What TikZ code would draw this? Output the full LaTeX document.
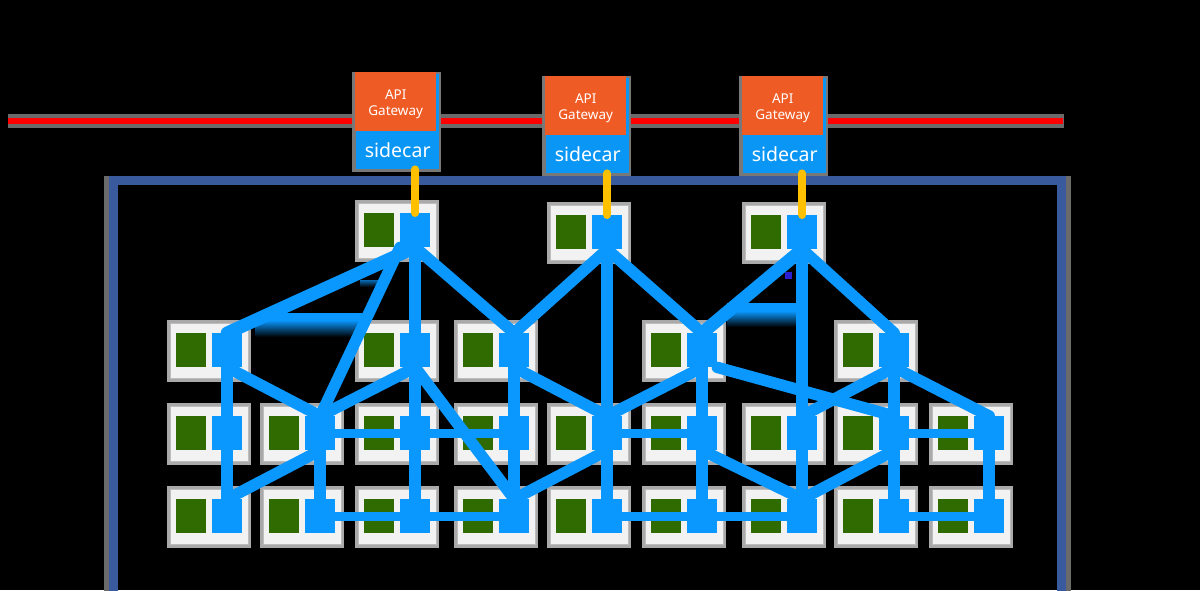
\documentclass[tikz,border=0pt]{standalone}
\usepackage{fontspec}
\setmainfont{Noto Sans}
\usetikzlibrary{calc}
\definecolor{meshblue}{HTML}{0A98FF}
\definecolor{sqgreen}{HTML}{2F6B00}
\definecolor{boxfill}{HTML}{F2F2F2}
\definecolor{boxline}{HTML}{BDBDBD}
\definecolor{boxshadow}{HTML}{A9A9A9}
\definecolor{gworange}{HTML}{EF5B25}
\definecolor{scblue}{HTML}{0A96F5}
\definecolor{yel}{HTML}{FFC000}
\definecolor{frameblue}{HTML}{3A5A9E}
\definecolor{shgray}{HTML}{6A6A6A}
\definecolor{gwshadow}{HTML}{787878}
\definecolor{wirered}{HTML}{FF0000}
\definecolor{artblue}{HTML}{2B1ED0}
\tikzset{
  shbox/.style={fill=boxshadow, draw=none, minimum width=84, minimum height=62, inner sep=0, anchor=north west},
  lbox/.style={fill=boxfill, draw=boxline, line width=1.2, minimum width=78, minimum height=55, inner sep=0, anchor=north west},
  gsq/.style={fill=sqgreen, draw=none, minimum width=30, minimum height=34, inner sep=0, anchor=north west},
  bsq/.style={fill=meshblue, draw=none, minimum width=30, minimum height=34, inner sep=0, anchor=north west},
  lk/.style={draw=meshblue, line width=11.5, line cap=round},
  hk/.style={draw=meshblue, line width=9, line cap=round},
  yl/.style={draw=yel, line width=8, line cap=round},
  gwnode/.style={fill=gworange, draw=none, minimum width=81, minimum height=59, inner sep=0, anchor=north west},
  gwtext/.style={text=white, align=center, inner sep=0, font=\fontsize{13.5}{16}\selectfont},
  scnode/.style={fill=scblue, draw=none, minimum width=83, minimum height=38, inner sep=0, anchor=north west, text=white, font=\fontsize{19.5}{22}\selectfont},
}
\newcommand\svc[3]{%
  \node[shbox] at (#2-3,#3-3) {};
  \node[lbox] (#1box) at (#2,#3) {};
  \node[gsq] (#1g) at (#2+6,#3+10) {};
  \node[bsq] (#1) at (#2+42,#3+10) {};
}
\newcommand\gwy[3]{%
  \fill[gwshadow] (#2-3,#3) rectangle (#2+86,#3+100);
  \fill[scblue] (#2+78,#3+2) rectangle (#2+84,#3+59);
  \node[scnode] (s#1) at (#2+1,#3+59) {sidecar};
  \node[gwnode] (g#1) at (#2,#3) {};
  \node[gwtext] (t#1) at ($(g#1.center)+(0,2.5)$) {API\\Gateway};
}
\begin{document}
\begin{tikzpicture}[x=1pt,y=-1pt]
\useasboundingbox (0,0) rectangle (1200,590);
\fill[black] (0,0) rectangle (1200,590);
% red wire
\coordinate (rl) at (8,120.5);
\coordinate (rr) at (1063,120.5);
\draw[shgray, line width=14] (rl) -- ($(rr)+(1,0)$);
\draw[wirered, line width=6] (rl) -- (rr);
% gateways
\gwy{1}{355}{72}
\gwy{2}{545}{76}
\gwy{3}{742}{76}
% frame
\draw[shgray, line width=5] (106,176) -- (106,595);
\draw[shgray, line width=5] (1068.5,176) -- (1068.5,595);
\draw[frameblue, line width=9] (113,595) -- (113,180.5) -- (1061.5,180.5) -- (1061.5,595);
% services
\svc{T3}{358}{203}
\svc{T5}{550}{205}
\svc{T7}{745}{205}
\svc{A1}{170}{323}
\svc{A3}{358}{323}
\svc{A4}{457}{323}
\svc{A6}{645}{323}
\svc{A8}{837}{323}
\svc{B1}{170}{406}
\svc{B2}{263}{406}
\svc{B3}{358}{406}
\svc{B4}{457}{406}
\svc{B5}{550}{406}
\svc{B6}{645}{406}
\svc{B7}{745}{406}
\svc{B8}{837}{406}
\svc{B9}{932}{406}
\svc{C1}{170}{489}
\svc{C2}{263}{489}
\svc{C3}{358}{489}
\svc{C4}{457}{489}
\svc{C5}{550}{489}
\svc{C6}{645}{489}
\svc{C7}{745}{489}
\svc{C8}{837}{489}
\svc{C9}{932}{489}
% faded bands
\fill[meshblue] (255,313) rectangle (362,320);
\shade[top color=meshblue, bottom color=black] (255,320) rectangle (362,337);
\shade[top color=meshblue!70!black, bottom color=black] (360,280) rectangle (388,287);
\fill[meshblue] (727,303) rectangle (796,311);
\shade[top color=meshblue, bottom color=black] (727,311) rectangle (796,327);
\fill[artblue] (785,272) rectangle (792,279);
% links
\draw[lk, line width=13] (T3.south) -- (A1.north);
\draw[lk] (T3.south west) -- (B2.north);
\draw[lk] (T3.south) -- (A3.north);
\draw[lk] (T3.south) -- (A4.north);
\draw[lk] (T5.south) -- (A4.north);
\draw[lk] (T5.south) -- (B5.north);
\draw[lk] (T5.south) -- (A6.north);
\draw[lk, line width=13] (T7.south) -- (A6.north);
\draw[lk] (T7.south) -- (B7.north);
\draw[lk] (T7.south) -- (A8.north);
\draw[lk] (A1.south) -- (B1.north);
\draw[lk] (A1.south) -- (B2.north);
\draw[lk] (A3.south) -- (B2.north);
\draw[lk] (A3.south) -- (B3.north);
\draw[lk] (A3.south) -- (C4.north);
\draw[lk] (A4.south) -- (B4.north);
\draw[lk] (A4.south) -- (B5.north);
\draw[lk] (A6.south) -- (B5.north);
\draw[lk] (A6.south) -- (B6.north);
\draw[lk] (A6.south east) -- (B8.north);
\draw[lk] (A8.south) -- (B7.north);
\draw[lk] (A8.south) -- (B8.north);
\draw[lk] (A8.south) -- (B9.north);
\draw[lk] (B1.south) -- (C1.north);
\draw[lk] (B2.south) -- (C1.north);
\draw[lk] (B2.south) -- (C2.north);
\draw[lk] (B3.south) -- (C3.north);
\draw[lk] (B4.south) -- (C4.north);
\draw[lk] (B5.south) -- (C4.north);
\draw[lk] (B5.south) -- (C5.north);
\draw[lk] (B6.south) -- (C6.north);
\draw[lk] (B6.south) -- (C7.north);
\draw[lk] (B7.south) -- (C7.north);
\draw[lk] (B8.south) -- (C7.north);
\draw[lk] (B8.south) -- (C8.north);
\draw[lk] (B9.south) -- (C9.north);
\draw[hk] (B2.east) -- (B3.west);
\draw[hk] (B3.east) -- (B4.west);
\draw[hk] (B5.east) -- (B6.west);
\draw[hk] (B8.east) -- (B9.west);
\draw[hk] (C2.east) -- (C3.west);
\draw[hk] (C3.east) -- (C4.west);
\draw[hk] (C5.east) -- (C6.west);
\draw[hk] (C6.east) -- (C7.west);
\draw[hk] (C8.east) -- (C9.west);
% gateway to service
\draw[yl] (T3.north |- s1.south) -- (T3.north);
\draw[yl] (T5.north |- s2.south) -- (T5.north);
\draw[yl] (T7.north |- s3.south) -- (T7.north);
\end{tikzpicture}
\end{document}
